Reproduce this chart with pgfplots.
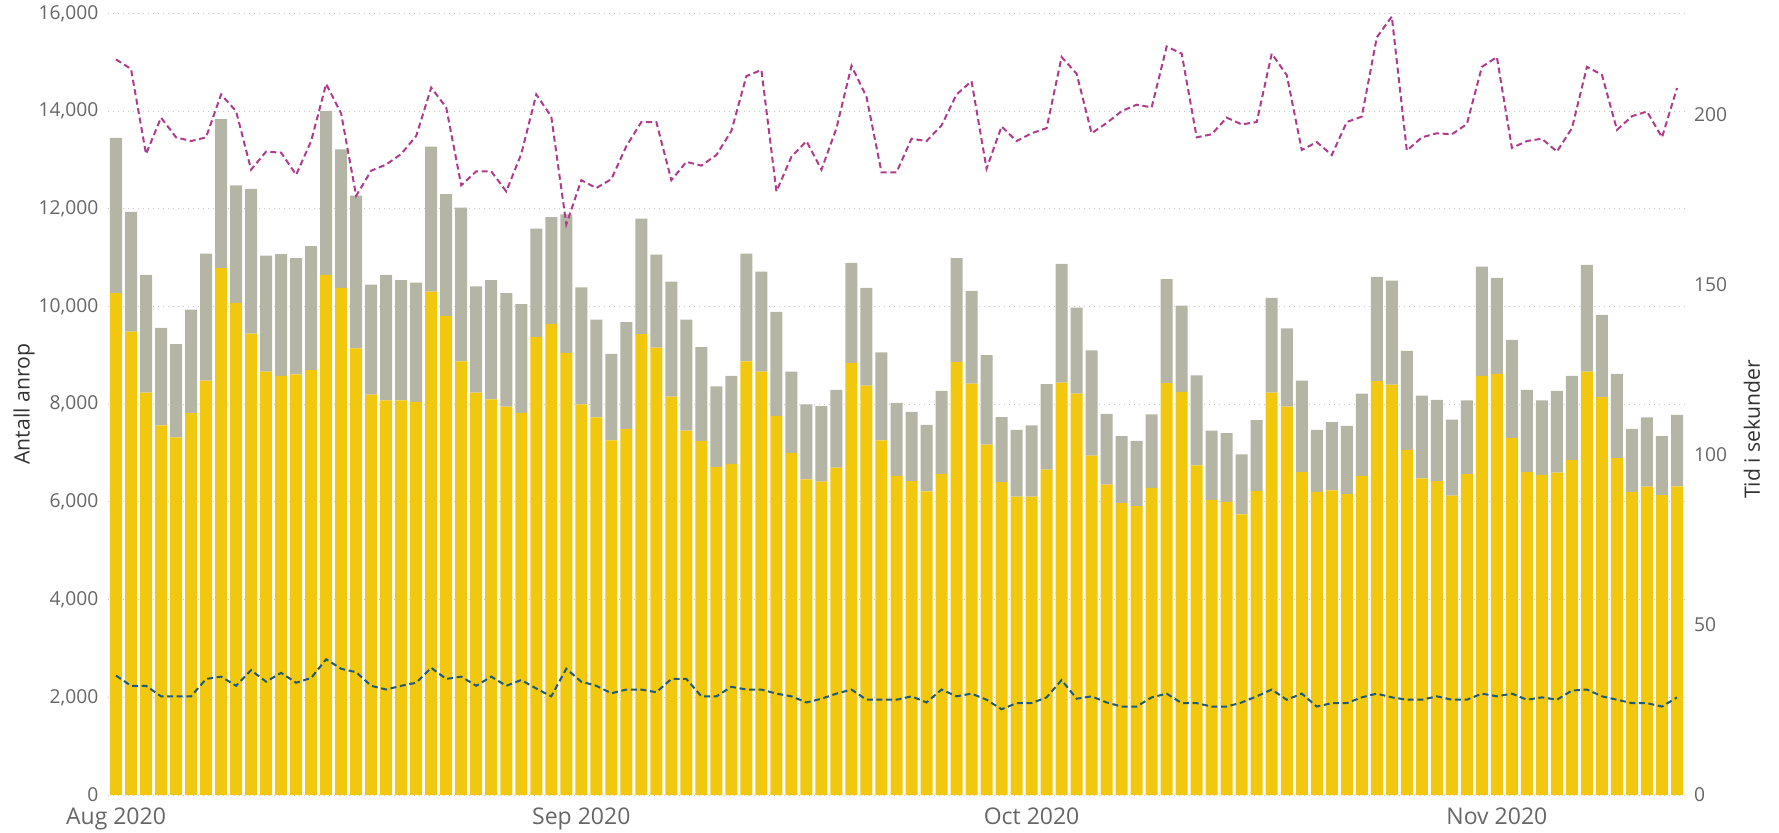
\documentclass[border=0pt]{standalone}
\usepackage{pgfplots}
\pgfplotsset{compat=1.18}
\usepackage{pgfplotstable}
\usepackage{fontspec}
\setmainfont{Open Sans}
\definecolor{yel}{HTML}{F2C80F}
\definecolor{gry}{HTML}{B5B5A6}
\definecolor{mag}{HTML}{B03A8C}
\definecolor{blu}{HTML}{1F5A7A}
\definecolor{tickc}{HTML}{666666}
\definecolor{titc}{HTML}{333333}
\definecolor{gridc}{HTML}{C8C8C8}

\pgfplotstableread{
x yel gry mag blu
1 10276 3177 216.2 35.1
2 9487 2452 213.4 32.1
3 8240 2409 188.4 32.1
4 7569 1993 199.1 29.0
5 7323 1908 193.3 29.0
6 7825 2110 192.2 29.0
7 8485 2601 193.3 34.1
8 10788 3049 205.9 34.8
9 10074 2409 201.0 32.1
10 9445 2963 183.8 36.7
11 8667 2377 189.1 33.3
12 8581 2495 188.8 35.9
13 8613 2377 182.3 33.0
14 8699 2536 192.2 34.4
15 10649 3358 209.0 39.9
16 10383 2835 200.3 37.1
17 9146 3124 176.1 36.1
18 8198 2249 183.5 32.1
19 8080 2569 185.3 31.0
20 8080 2463 188.4 32.1
21 8048 2442 193.7 33.0
22 10308 2964 207.9 37.4
23 9807 2495 202.1 34.1
24 8880 3144 179.2 34.8
25 8240 2175 183.3 32.1
26 8102 2441 183.3 34.8
27 7952 2324 177.4 32.1
28 7825 2227 188.4 33.8
29 9381 2217 205.9 31.3
30 9647 2186 199.4 29.0
31 9050 2836 167.7 37.1
32 7995 2399 180.7 33.3
33 7729 2004 178.4 32.1
34 7259 1770 181.0 29.9
35 7494 2185 190.7 31.0
36 9434 2367 197.8 31.0
37 9157 1908 197.8 30.2
38 8155 2356 180.7 34.1
39 7462 2271 186.1 34.1
40 7249 1919 185.0 29.0
41 6716 1652 188.1 29.0
42 6780 1801 195.2 31.8
43 8880 2206 211.3 31.0
44 8667 2046 213.1 31.0
45 7760 2132 177.4 29.8
46 7004 1663 187.6 29.0
47 6460 1535 192.2 27.2
48 6417 1546 183.8 28.3
49 6705 1588 196.0 29.8
50 8848 2047 214.3 31.0
51 8379 2004 205.2 28.0
52 7259 1802 183.0 28.0
53 6535 1492 183.0 28.0
54 6428 1418 192.9 29.0
55 6215 1364 192.2 27.2
56 6577 1695 196.8 31.0
57 8869 2121 205.9 29.0
58 8421 1898 209.8 29.8
59 7174 1834 184.1 28.0
60 6407 1332 196.5 25.2
61 6108 1365 192.2 27.0
62 6108 1461 194.5 27.0
63 6663 1748 196.0 28.7
64 8443 2430 216.9 33.8
65 8219 1759 212.0 28.3
66 6950 2154 194.5 29.0
67 6353 1450 197.5 27.2
68 5980 1365 201.0 26.0
69 5916 1333 202.9 26.0
70 6289 1503 202.1 28.7
71 8432 2132 220.0 29.8
72 8251 1769 217.9 27.0
73 6748 1844 193.3 27.0
74 6044 1418 194.2 26.0
75 6002 1407 199.1 26.0
76 5746 1226 197.1 27.2
77 6225 1450 197.8 29.0
78 8240 1940 217.9 31.0
79 7952 1599 211.6 28.0
80 6609 1876 189.6 29.8
81 6204 1269 191.9 26.0
82 6236 1397 188.1 27.0
83 6161 1397 197.8 27.0
84 6535 1684 199.4 28.7
85 8475 2132 222.7 29.8
86 8400 2132 228.8 28.7
87 7068 2025 189.4 28.0
88 6481 1695 193.3 28.0
89 6428 1663 194.5 29.0
90 6130 1556 194.2 28.0
91 6567 1513 197.2 28.0
92 8581 2239 214.0 29.8
93 8624 1961 216.9 29.0
94 7313 2004 190.2 29.8
95 6609 1684 192.2 28.0
96 6556 1524 192.9 28.7
97 6599 1673 189.1 28.0
98 6854 1727 196.0 30.7
99 8667 2185 214.0 31.0
100 8144 1685 211.7 29.0
101 6897 1727 195.5 28.0
102 6204 1290 199.5 27.0
103 6311 1418 200.9 27.0
104 6140 1205 193.3 26.0
105 6321 1461 207.8 28.7
}\data

\pgfplotsset{
  common/.style={
    at={(54.25pt,18.5pt)}, anchor=south west,
    scale only axis, width=788pt, height=390.75pt,
    xmin=0.5, xmax=105.5,
    axis line style={draw=none},
    major tick length=0pt, minor tick num=0,
    scaled y ticks=false,
    /pgf/number format/assume math mode=true,
    /pgf/number format/1000 sep={,},
    yticklabel style={font=\fontsize{9.6}{11}\selectfont, text=tickc},
  },
}

\begin{document}
\begin{tikzpicture}[x=1pt,y=1pt]
\useasboundingbox (0,0) rectangle (889.5,416);
\begin{axis}[common,
  ymin=0, ymax=16000,
  ybar stacked, bar width=0.8,
  ytick={0,2000,...,16000},
  xtick={1,32,62,93},
  xticklabels={Aug 2020,Sep 2020,Oct 2020,Nov 2020},
  xticklabel style={font=\fontsize{11.5}{13}\selectfont, text=tickc, yshift=-2.7pt},
  yticklabel style={xshift=-1.6pt},
  ymajorgrids,
  major grid style={gridc, line width=0.5pt, dash pattern=on 0.5pt off 2pt},
  ylabel={Antall anrop},
  every axis y label/.style={at={(axis description cs:-0.0536,0.5)}, rotate=90, anchor=center,
     font=\fontsize{10.6}{12}\selectfont, text=titc},
]
\addplot[fill=yel, draw=none] table[x=x, y=yel] {\data};
\addplot[fill=gry, draw=none] table[x=x, y=gry] {\data};
\end{axis}
\begin{axis}[common,
  ymin=0, ymax=229.7,
  hide x axis,
  axis y line*=right,
  ytick={0,50,100,150,200},
  yticklabel style={xshift=1.3pt},
  ylabel={Tid i sekunder},
  every axis y label/.style={at={(axis description cs:1.0428,0.468)}, rotate=90, anchor=center,
     font=\fontsize{10.6}{12}\selectfont, text=titc},
]
\addplot[mag, line width=1pt, dash pattern=on 3pt off 1.8pt] table[x=x, y=mag] {\data};
\addplot[blu, line width=1pt, dash pattern=on 3pt off 1.8pt] table[x=x, y=blu] {\data};
\end{axis}
\end{tikzpicture}
\end{document}
